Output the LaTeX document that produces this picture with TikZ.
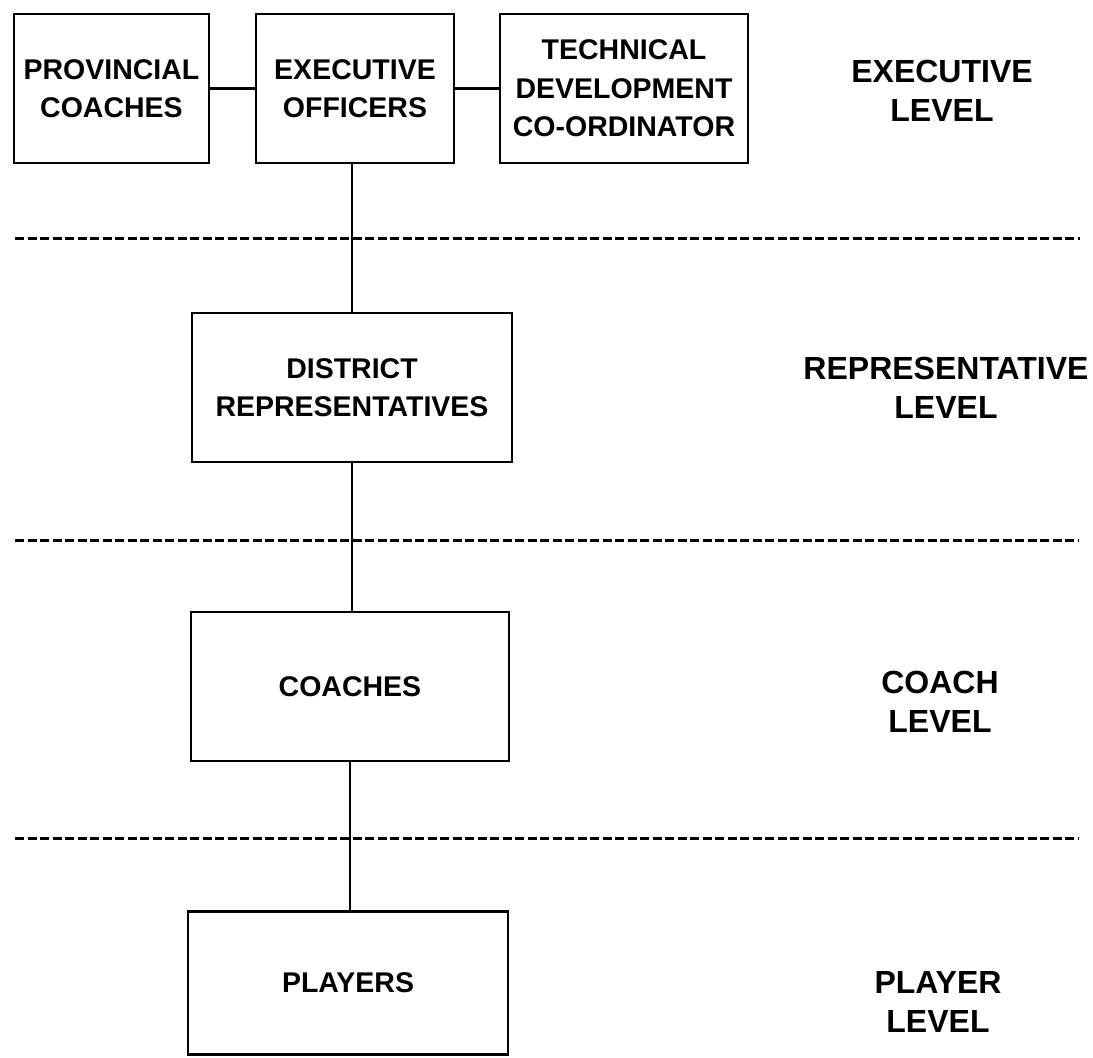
\documentclass[tikz,border=0pt]{standalone}
\usepackage{fontspec}
\setmainfont{Liberation Sans}
\begin{document}
\begin{tikzpicture}[x=1pt,y=-1pt,
  box/.style={draw,line width=2.8pt,inner sep=0pt,align=center,
    font=\fontsize{28.5}{38.5}\selectfont\bfseries},
  lvl/.style={inner sep=0pt,align=center,font=\fontsize{32}{39}\selectfont\bfseries},
  conn/.style={line width=2.8pt},
  sep/.style={line width=3pt,dash pattern=on 9pt off 3.5pt}]
\useasboundingbox (0,0) rectangle (1093,1058);
\node[box,minimum width=195pt,minimum height=149pt] (prov) at (111.5,88.5) {PROVINCIAL\\COACHES};
\node[box,minimum width=198pt,minimum height=149pt] (exec) at (355,88.5) {EXECUTIVE\\OFFICERS};
\node[box,minimum width=248pt,minimum height=149pt] (tech) at (624,88.5) {TECHNICAL\\DEVELOPMENT\\CO-ORDINATOR};
\node[box,minimum width=320pt,minimum height=149pt] (dist) at (352,387.5) {DISTRICT\\REPRESENTATIVES};
\node[box,minimum width=318pt,minimum height=149pt] (coach) at (350,686.5) {COACHES};
\node[box,minimum width=320pt,minimum height=143pt] (play) at (348,983) {PLAYERS};
\draw[conn] (prov.east) -- (exec.west);
\draw[conn] (exec.east) -- (tech.west);
\draw[conn] (dist.north) -- (dist.north |- exec.south);
\draw[conn] (dist.south) -- (coach.north -| dist.south);
\draw[conn] (coach.south) -- (play.north -| coach.south);
\coordinate (l1a) at (15,238); \coordinate (l1b) at (1080,238);
\coordinate (l2a) at (15,540); \coordinate (l2b) at (1078,540);
\coordinate (l3a) at (15,838); \coordinate (l3b) at (1078,838);
\draw[sep] (l1a) -- (l1b);
\draw[sep] (l2a) -- (l2b);
\draw[sep] (l3a) -- (l3b);
\node[lvl] (le) at (942,91) {EXECUTIVE\\LEVEL};
\node[lvl] (lr) at (946,388) {REPRESENTATIVE\\LEVEL};
\node[lvl] (lc) at (940,702) {COACH\\LEVEL};
\node[lvl] (lp) at (938,1002) {PLAYER\\LEVEL};
\end{tikzpicture}
\end{document}
